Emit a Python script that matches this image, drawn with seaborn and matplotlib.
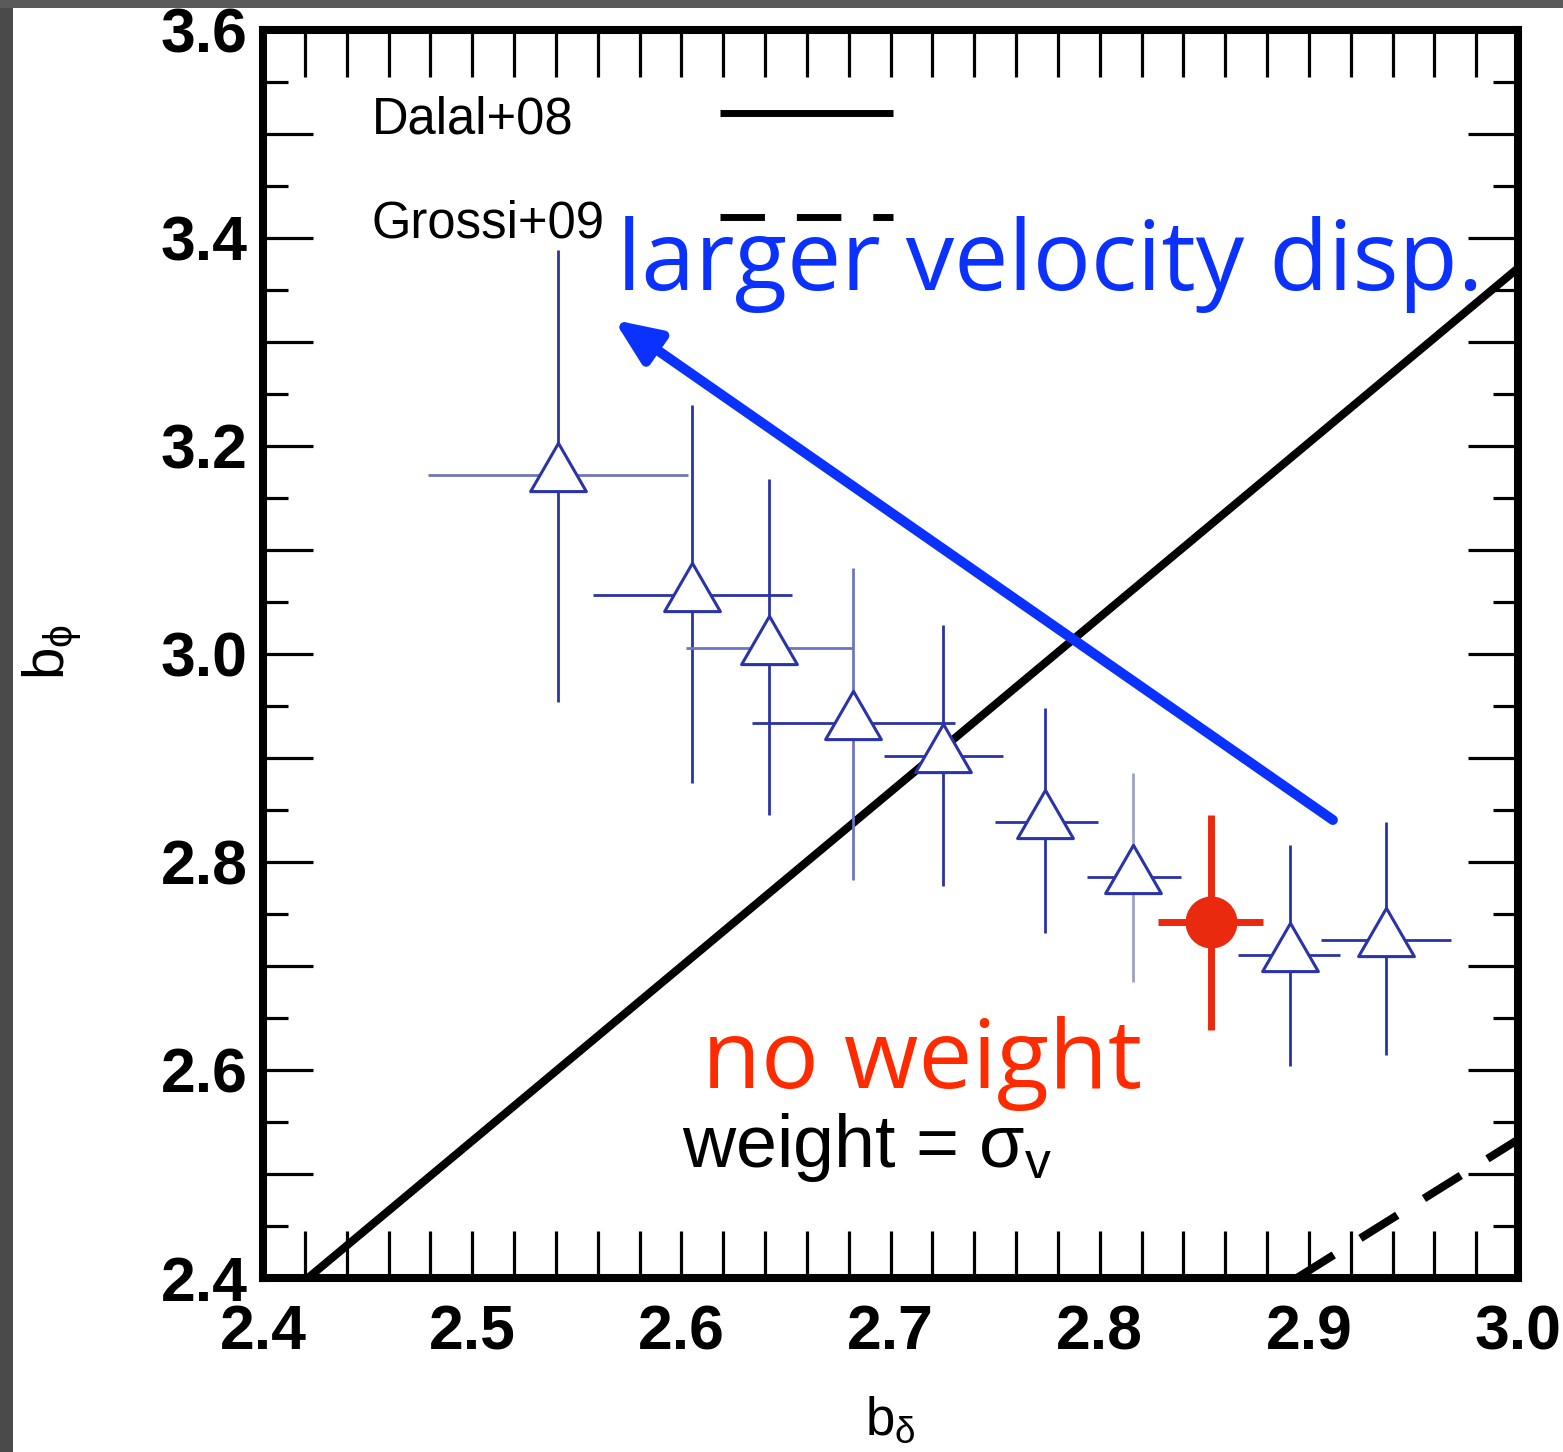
import numpy as np
import pandas as pd
import matplotlib
matplotlib.use("Agg")
import matplotlib.pyplot as plt
import seaborn as sns
from matplotlib.path import Path
from matplotlib.ticker import MultipleLocator, FuncFormatter
from matplotlib.patches import Rectangle

# ---------------- data ----------------
# weighted (weight = sigma_v) bins : open triangles
b_delta = [2.541, 2.605, 2.642, 2.682, 2.725, 2.774, 2.816, 2.891, 2.937]
b_phi = [3.172, 3.057, 3.006, 2.934, 2.902, 2.838, 2.786, 2.711, 2.725]
b_delta_lo = [2.479, 2.558, 2.602, 2.634, 2.697, 2.750, 2.794, 2.866, 2.906]
b_delta_hi = [2.603, 2.653, 2.682, 2.731, 2.754, 2.799, 2.839, 2.915, 2.968]
b_phi_lo = [2.954, 2.876, 2.845, 2.783, 2.777, 2.732, 2.685, 2.604, 2.614]
b_phi_hi = [3.388, 3.239, 3.168, 3.083, 3.028, 2.948, 2.886, 2.816, 2.838]

# no weight : filled red circle
nw_delta = [2.853]
nw_phi = [2.742]
nw_delta_lo = [2.828]
nw_delta_hi = [2.878]
nw_phi_lo = [2.638]
nw_phi_hi = [2.845]

# model relations
dalal_delta = [2.4215, 3.0]
dalal_phi = [2.4, 3.371]
grossi_delta = [2.8943, 3.0]
grossi_phi = [2.4, 2.533]

legend_labels = ["Dalal+08", "Grossi+09"]
x_ticks = [2.4, 2.5, 2.6, 2.7, 2.8, 2.9, 3.0]
y_ticks = [2.4, 2.6, 2.8, 3.0, 3.2, 3.4, 3.6]

# annotation arrow (tail -> head), in data units
arrow_tail = (2.9115, 2.8404)
arrow_head = (2.5678, 3.3212)

# ---------------- style ----------------
sns.set_style("white")
plt.rcParams["font.family"] = ["Liberation Sans", "DejaVu Sans"]
plt.rcParams["mathtext.fontset"] = "custom"
plt.rcParams["mathtext.rm"] = "Liberation Sans"
plt.rcParams["mathtext.it"] = "Liberation Sans"
plt.rcParams["mathtext.bf"] = "Liberation Sans:bold"
for k in ["text.color", "axes.labelcolor", "xtick.color", "ytick.color",
          "axes.edgecolor"]:
    plt.rcParams[k] = "black"

W, H = 1563, 1452
fig = plt.figure(figsize=(W / 100, H / 100), dpi=100)
fig.patch.set_facecolor("white")
ax = fig.add_axes([263 / W, (H - 1278) / H, 1255 / W, 1248 / H])
ax.set_facecolor("white")

BLUE = "#2a33a8"
LBLUE = "#6f76bd"
GBLUE = "#9ea2c6"
RED = "#ea2a0e"
ARROW_BLUE = "#0b31ff"

df = pd.DataFrame({"b_delta": b_delta, "b_phi": b_phi,
                   "xlo": b_delta_lo, "xhi": b_delta_hi,
                   "ylo": b_phi_lo, "yhi": b_phi_hi})

# model lines
sns.lineplot(x=dalal_delta, y=dalal_phi, ax=ax, color="black", lw=5.8,
             zorder=2, solid_capstyle="butt")
sns.lineplot(x=grossi_delta, y=grossi_phi, ax=ax, color="black", lw=5.8,
             linestyle=(0, (5.4, 3.9)), zorder=2, dash_capstyle="butt")

# error bars (colour per bar)
xbar_col = [LBLUE, BLUE, LBLUE, BLUE, BLUE, BLUE, BLUE, BLUE, BLUE]
ybar_col = [BLUE, BLUE, BLUE, LBLUE, BLUE, BLUE, GBLUE, BLUE, BLUE]
for i, r in df.iterrows():
    ax.errorbar(r.b_delta, r.b_phi,
                xerr=[[r.b_delta - r.xlo], [r.xhi - r.b_delta]],
                fmt="none", ecolor=xbar_col[i], elinewidth=2.0, capsize=0,
                zorder=3)
    ax.errorbar(r.b_delta, r.b_phi,
                yerr=[[r.b_phi - r.ylo], [r.yhi - r.b_phi]],
                fmt="none", ecolor=ybar_col[i], elinewidth=2.0, capsize=0,
                zorder=3)

ax.errorbar(nw_delta, nw_phi,
            xerr=[np.subtract(nw_delta, nw_delta_lo), np.subtract(nw_delta_hi, nw_delta)],
            yerr=[np.subtract(nw_phi, nw_phi_lo), np.subtract(nw_phi_hi, nw_phi)],
            fmt="none", ecolor=RED, elinewidth=5.0, capsize=0, zorder=5)

# triangle marker centred on its centroid
tri = Path([(0, 1), (-0.8660, -0.5), (0.8660, -0.5), (0, 1)],
           [Path.MOVETO, Path.LINETO, Path.LINETO, Path.CLOSEPOLY])
sns.scatterplot(data=df, x="b_delta", y="b_phi", ax=ax, marker=tri, s=2150,
                color="white", edgecolor=BLUE, linewidth=2.2, zorder=4)
sns.scatterplot(x=nw_delta, y=nw_phi, ax=ax, marker="o", s=1400,
                color=RED, edgecolor=RED, linewidth=0, zorder=6)

# ---------------- axes ----------------
ax.set_xlim(2.4, 3.0)
ax.set_ylim(2.4, 3.6)
ax.set_xlabel("")
ax.set_ylabel("")

ax.xaxis.set_major_locator(MultipleLocator(0.02))
ax.xaxis.set_major_formatter(FuncFormatter(
    lambda v, p: f"{v:.1f}" if any(abs(v - t) < 1e-6 for t in x_ticks) else ""))
ax.yaxis.set_major_locator(MultipleLocator(0.1))
ax.yaxis.set_minor_locator(MultipleLocator(0.05))
ax.yaxis.set_major_formatter(FuncFormatter(
    lambda v, p: f"{v:.1f}" if any(abs(v - t) < 1e-6 for t in y_ticks) else ""))

ax.tick_params(axis="both", which="both", direction="in", top=True, right=True,
               bottom=True, left=True, width=2.3, color="black",
               labelcolor="black")
ax.tick_params(axis="x", which="major", length=34, pad=18)
ax.tick_params(axis="y", which="major", length=36, pad=11)
ax.tick_params(axis="y", which="minor", length=18)
for lab in ax.get_xticklabels() + ax.get_yticklabels():
    lab.set_fontsize(45)
    lab.set_fontweight("bold")

for s in ax.spines.values():
    s.set_linewidth(5.8)
    s.set_color("black")
    s.set_zorder(7)

# axis labels
fig.text(890 / W, (H - 1435) / H, r"b$_{\delta}$", fontsize=38,
         ha="center", va="baseline", color="black")
fig.text(64 / W, (H - 652) / H, r"b$_{\phi}$", fontsize=42,
         ha="center", va="baseline", rotation=90, rotation_mode="anchor",
         color="black")

# legend (text left, key line right)
def axfx(px):
    return (px - 263) / 1255

def axfy(py):
    return (1278 - py) / 1248

ax.text(axfx(372), axfy(133), legend_labels[0], transform=ax.transAxes,
        fontsize=36.5, ha="left", va="baseline", color="black")
ax.text(axfx(372), axfy(237), legend_labels[1], transform=ax.transAxes,
        fontsize=36.5, ha="left", va="baseline", color="black")
ax.plot([axfx(720), axfx(893)], [axfy(113)] * 2, transform=ax.transAxes,
        color="black", lw=5.0, solid_capstyle="butt")
ax.plot([axfx(720), axfx(893)], [axfy(217)] * 2, transform=ax.transAxes,
        color="black", lw=5.0, linestyle=(0, (6.4, 4.6)), dash_capstyle="butt")

# annotations
t1 = ax.text(2.7763, 3.35, "larger velocity disp.", color=ARROW_BLUE,
             fontsize=70, family=["Open Sans", "DejaVu Sans"],
             ha="center", va="baseline", zorder=8)
t2 = ax.text(2.7151, 2.5827, "no weight", color="#fe2a00",
             fontsize=70, family=["Open Sans", "DejaVu Sans"],
             ha="center", va="baseline", zorder=8)
t3 = ax.text(2.6888, 2.5067, r"weight = $\sigma_{\mathrm{v}}$", color="black",
             fontsize=49, ha="center", va="baseline", zorder=8)

ax.annotate("", xy=arrow_head, xytext=arrow_tail,
            arrowprops=dict(arrowstyle="-|>,head_length=27,head_width=11.5",
                            mutation_scale=1, color=ARROW_BLUE, lw=7.2,
                            shrinkA=0, shrinkB=0),
            zorder=9)

# fit the slide-text widths to the reference
fig.canvas.draw()
rend = fig.canvas.get_renderer()
for t, target in [(t1, 866), (t2, 440), (t3, 370)]:
    w = t.get_window_extent(rend).width
    t.set_fontsize(t.get_fontsize() * target / w)

# dark slide border (left and top)
fig.add_artist(Rectangle((0, 0), 13 / W, 1, transform=fig.transFigure,
                         facecolor="#4a4a4a", edgecolor="none", zorder=20))
fig.add_artist(Rectangle((0, 1 - 8 / H), 1, 8 / H, transform=fig.transFigure,
                         facecolor="#5a5a5a", edgecolor="none", zorder=20))

fig.savefig("out.png", dpi=100, facecolor="white")
